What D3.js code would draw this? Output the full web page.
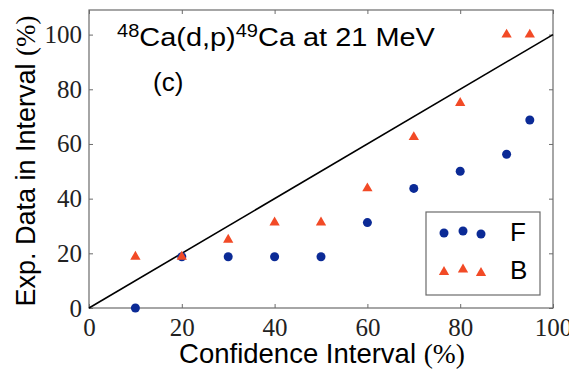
<!DOCTYPE html>
<html>
<head>
<meta charset="utf-8">
<script src="https://cdn.jsdelivr.net/npm/d3@7"></script>
<style>
  html, body { margin: 0; padding: 0; background: #fff; }
  svg { display: block; }
</style>
</head>
<body>
<div id="chart"></div>
<script>
(function() {
  const W = 569, H = 372;

  // data
  const confidence = [10, 20, 30, 40, 50, 60, 70, 80, 90, 95];
  const seriesF = [0, 18.75, 18.75, 18.75, 18.75, 31.25, 43.75, 50, 56.25, 68.75];
  const seriesB = [18.75, 18.75, 25, 31.25, 31.25, 43.75, 62.5, 75, 100, 100];
  const xTicks = [0, 20, 40, 60, 80, 100];
  const yTicks = [0, 20, 40, 60, 80, 100];
  const legendNames = ["F", "B"];

  const blue = "#0b2a96";
  const red = "#f24a26";
  const frame = "#6b6b6b";
  const serif = "'Liberation Serif', 'DejaVu Serif', serif";
  const sans = "'Liberation Sans', Arial, sans-serif";

  const m = { left: 89, right: 16, top: 10, bottom: 64 };

  const svg = d3.select("#chart").append("svg")
    .attr("width", W)
    .attr("height", H);

  const x = d3.scaleLinear().domain([0, 100]).range([m.left, W - m.right]);
  const y = d3.scaleLinear().domain([0, 109]).range([H - m.bottom, m.top]);

  // frame
  svg.append("rect")
    .attr("x", x(0)).attr("y", y(109))
    .attr("width", x(100) - x(0)).attr("height", y(0) - y(109))
    .attr("fill", "none").attr("stroke", frame).attr("stroke-width", 1.2);

  // axes with inward ticks, mirrored on top and right
  function styleAxis(g) {
    g.select(".domain").remove();
    g.selectAll(".tick line").attr("stroke", frame);
    g.selectAll(".tick text").attr("fill", "#222")
      .style("font-family", serif).style("font-size", "25px");
  }

  svg.append("g")
    .attr("transform", `translate(0,${y(0)})`)
    .call(d3.axisBottom(x).tickValues(xTicks).tickSizeInner(-4).tickSizeOuter(0).tickPadding(10))
    .call(styleAxis);
  svg.append("g")
    .attr("transform", `translate(0,${y(109)})`)
    .call(d3.axisTop(x).tickValues(xTicks).tickSizeInner(-4).tickSizeOuter(0).tickFormat(""))
    .call(styleAxis);
  svg.append("g")
    .attr("transform", `translate(${x(0)},0)`)
    .call(d3.axisLeft(y).tickValues(yTicks).tickSizeInner(-4).tickSizeOuter(0).tickPadding(7))
    .call(styleAxis);
  svg.append("g")
    .attr("transform", `translate(${x(100)},0)`)
    .call(d3.axisRight(y).tickValues(yTicks).tickSizeInner(-4).tickSizeOuter(0).tickFormat(""))
    .call(styleAxis);

  // diagonal y = x
  svg.append("line")
    .attr("x1", x(0)).attr("y1", y(0))
    .attr("x2", x(100)).attr("y2", y(100))
    .attr("stroke", "#000").attr("stroke-width", 1.6);

  const tri = d3.symbol().type(d3.symbolTriangle).size(46);

  // F points
  svg.append("g").selectAll("circle")
    .data(confidence.map((c, i) => [c, seriesF[i]]))
    .join("circle")
    .attr("cx", d => x(d[0])).attr("cy", d => y(d[1]))
    .attr("r", 4.5).attr("fill", blue);

  // B points
  svg.append("g").selectAll("path")
    .data(confidence.map((c, i) => [c, seriesB[i]]))
    .join("path")
    .attr("d", tri)
    .attr("transform", d => `translate(${x(d[0])},${y(d[1])})`)
    .attr("fill", red);

  // legend
  const leg = svg.append("g");
  leg.append("rect")
    .attr("x", 426).attr("y", 212).attr("width", 114).attr("height", 83)
    .attr("fill", "#fff").attr("stroke", frame).attr("stroke-width", 1.2);
  const fOff = [[444, 233], [463, 231], [481, 234]];
  const bOff = [[444, 272], [463, 269.5], [481, 273]];
  leg.selectAll("circle").data(fOff).join("circle")
    .attr("cx", d => d[0]).attr("cy", d => d[1]).attr("r", 4.5).attr("fill", blue);
  leg.selectAll("path").data(bOff).join("path")
    .attr("d", tri).attr("transform", d => `translate(${d[0]},${d[1]})`).attr("fill", red);
  leg.selectAll("text").data(legendNames).join("text")
    .attr("x", 510).attr("y", (d, i) => 241 + i * 38)
    .style("font-family", sans).style("font-size", "26px").attr("fill", "#000")
    .text(d => d);

  // title (glyphs in the original are a bit wide, so stretch it to its span)
  const titleG = svg.append("g");
  const title = titleG.append("text")
    .attr("x", 0).attr("y", 0)
    .style("font-family", sans).style("font-size", "26px").attr("fill", "#000");
  title.append("tspan").attr("dy", -9).style("font-size", "18px").text("48");
  title.append("tspan").attr("dy", 9).text("Ca(d,p)");
  title.append("tspan").attr("dy", -9).style("font-size", "18px").text("49");
  title.append("tspan").attr("dy", 9).text("Ca at 21 MeV");
  const tw = title.node().getComputedTextLength() || 300;
  titleG.attr("transform", `translate(117,46) scale(${318 / tw},1)`);

  svg.append("text")
    .attr("x", 153).attr("y", 91)
    .style("font-family", sans).style("font-size", "26px").attr("fill", "#000")
    .text("(c)");

  // axis labels
  const xl = svg.append("text")
    .attr("x", 322).attr("y", 363)
    .attr("text-anchor", "middle")
    .style("font-family", sans).style("font-size", "27.5px").attr("fill", "#000");
  xl.append("tspan").text("Confidence Interval ");
  xl.append("tspan").style("font-family", serif).text("(%)");

  const yl = svg.append("text")
    .attr("transform", `translate(35,${161}) rotate(-90)`)
    .attr("text-anchor", "middle")
    .style("font-family", sans).style("font-size", "27px").attr("fill", "#000");
  yl.append("tspan").text("Exp. Data in Interval ");
  yl.append("tspan").style("font-family", serif).text("(%)");
})();
</script>
</body>
</html>
